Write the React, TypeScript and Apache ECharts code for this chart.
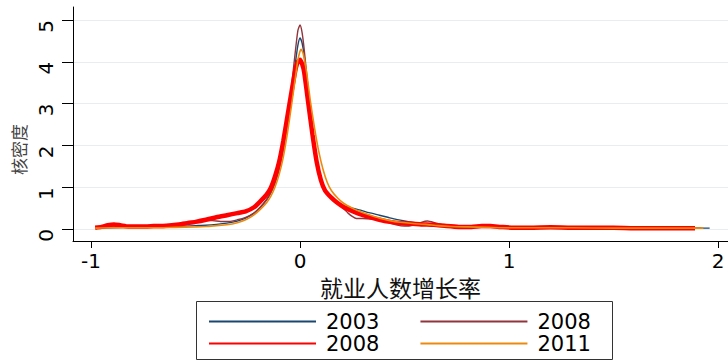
import { useEffect, useRef } from "react";
import * as echarts from "echarts";

// ---- axis ticks ----
const xTicks = [-1, 0, 1, 2];
const yTicks = [0, 1, 2, 3, 4, 5];

// ---- series (kernel density estimates): [growth rate, density] ----
const kd2003: number[][] = [
  [-0.98, 0.02], [-0.9, 0.03], [-0.8, 0.04], [-0.7, 0.05], [-0.6, 0.06], [-0.5, 0.08], [-0.45, 0.09],
  [-0.4, 0.11], [-0.35, 0.14], [-0.3, 0.19], [-0.26, 0.26], [-0.22, 0.38], [-0.19, 0.52], [-0.16, 0.7],
  [-0.14, 0.86], [-0.12, 1.1], [-0.1, 1.42], [-0.08, 1.9], [-0.06, 2.55], [-0.04, 3.25], [-0.02, 4.05],
  [-0.01, 4.4], [0, 4.57], [0.01, 4.45], [0.02, 4.15], [0.04, 3.25], [0.06, 2.35], [0.08, 1.62],
  [0.1, 1.17], [0.12, 0.93], [0.15, 0.74], [0.18, 0.63], [0.21, 0.56], [0.25, 0.5], [0.29, 0.45],
  [0.33, 0.39], [0.38, 0.33], [0.42, 0.28], [0.46, 0.23], [0.5, 0.19], [0.55, 0.15], [0.6, 0.12],
  [0.66, 0.08], [0.72, 0.06], [0.8, 0.05], [0.9, 0.04], [1.0, 0.04], [1.1, 0.03], [1.25, 0.03],
  [1.4, 0.03], [1.55, 0.03], [1.7, 0.02], [1.85, 0.02], [1.96, 0.02],
];

const kd2008a: number[][] = [
  [-0.98, 0.03], [-0.9, 0.05], [-0.8, 0.05], [-0.7, 0.06], [-0.6, 0.08], [-0.55, 0.11], [-0.5, 0.16],
  [-0.46, 0.2], [-0.42, 0.2], [-0.38, 0.18], [-0.34, 0.18], [-0.3, 0.22], [-0.26, 0.28], [-0.22, 0.38],
  [-0.19, 0.52], [-0.16, 0.7], [-0.14, 0.87], [-0.12, 1.1], [-0.1, 1.45], [-0.08, 1.95], [-0.06, 2.65],
  [-0.04, 3.45], [-0.02, 4.35], [-0.01, 4.75], [0, 4.88], [0.01, 4.7], [0.02, 4.3], [0.04, 3.3],
  [0.06, 2.35], [0.08, 1.62], [0.1, 1.18], [0.12, 0.94], [0.15, 0.74], [0.18, 0.6], [0.21, 0.48],
  [0.23, 0.38], [0.25, 0.3], [0.27, 0.25], [0.3, 0.25], [0.34, 0.24], [0.38, 0.21], [0.42, 0.16],
  [0.46, 0.1], [0.5, 0.07], [0.54, 0.09], [0.58, 0.16], [0.61, 0.19], [0.65, 0.14], [0.7, 0.08],
  [0.78, 0.05], [0.88, 0.05], [1.0, 0.04], [1.15, 0.03], [1.3, 0.03], [1.5, 0.03], [1.7, 0.02], [1.92, 0.02],
];

const kd2008b: number[][] = [
  [-0.98, 0.03], [-0.95, 0.05], [-0.92, 0.09], [-0.89, 0.11], [-0.86, 0.09], [-0.82, 0.06], [-0.76, 0.06],
  [-0.7, 0.07], [-0.64, 0.08], [-0.58, 0.11], [-0.54, 0.14], [-0.5, 0.17], [-0.45, 0.22], [-0.4, 0.28],
  [-0.35, 0.33], [-0.3, 0.38], [-0.26, 0.42], [-0.22, 0.52], [-0.19, 0.66], [-0.16, 0.82], [-0.14, 0.98],
  [-0.12, 1.25], [-0.1, 1.6], [-0.08, 2.1], [-0.06, 2.7], [-0.04, 3.3], [-0.02, 3.85], [-0.01, 4.0],
  [0, 4.05], [0.01, 3.95], [0.02, 3.75], [0.04, 3.0], [0.06, 2.25], [0.08, 1.6], [0.1, 1.17],
  [0.12, 0.92], [0.15, 0.75], [0.18, 0.62], [0.21, 0.52], [0.24, 0.45], [0.28, 0.37], [0.33, 0.29],
  [0.38, 0.22], [0.43, 0.17], [0.48, 0.14], [0.53, 0.13], [0.58, 0.11], [0.64, 0.1], [0.7, 0.07],
  [0.76, 0.05], [0.82, 0.05], [0.87, 0.07], [0.91, 0.07], [0.96, 0.05], [1.02, 0.03], [1.1, 0.03],
  [1.2, 0.04], [1.3, 0.03], [1.4, 0.03], [1.5, 0.03], [1.6, 0.02], [1.7, 0.02], [1.8, 0.02], [1.89, 0.02],
];

const kd2011: number[][] = [
  [-0.98, 0.02], [-0.9, 0.03], [-0.8, 0.03], [-0.7, 0.03], [-0.6, 0.04], [-0.5, 0.05], [-0.45, 0.06],
  [-0.4, 0.08], [-0.35, 0.1], [-0.3, 0.15], [-0.26, 0.22], [-0.22, 0.34], [-0.19, 0.47], [-0.16, 0.63],
  [-0.14, 0.78], [-0.12, 1.0], [-0.1, 1.3], [-0.08, 1.72], [-0.06, 2.3], [-0.04, 2.98], [-0.02, 3.7],
  [-0.01, 4.05], [0, 4.25], [0.005, 4.3], [0.015, 4.2], [0.03, 3.8], [0.05, 3.05], [0.07, 2.4],
  [0.09, 1.85], [0.11, 1.43], [0.13, 1.12], [0.15, 0.92], [0.18, 0.74], [0.21, 0.61], [0.25, 0.5],
  [0.29, 0.41], [0.33, 0.34], [0.38, 0.26], [0.43, 0.2], [0.48, 0.16], [0.54, 0.13], [0.6, 0.11],
  [0.66, 0.08], [0.72, 0.06], [0.8, 0.05], [0.9, 0.04], [1.0, 0.03], [1.15, 0.03], [1.3, 0.03],
  [1.5, 0.02], [1.7, 0.02], [1.93, 0.02],
];

const seriesKeys = ["2003", "2008a", "2008b", "2011"];
const legendLabels: Record<string, string> = { "2003": "2003", "2008a": "2008", "2008b": "2008", "2011": "2011" };
const xTitle = "就业人数增长率";
const yTitle = "核密度";

const numFont = "'DejaVu Sans', 'Liberation Sans', Arial, sans-serif";
const cjkFont = "'Noto Sans CJK SC', 'Noto Sans', sans-serif";

export default function App() {
  const ref = useRef<HTMLDivElement>(null);
  useEffect(() => {
    if (!ref.current) return;
    const chart = echarts.init(ref.current, undefined, { renderer: "svg" });
    const legendCommon = {
      left: 208,
      orient: "horizontal" as const,
      itemWidth: 107,
      itemHeight: 14,
      itemGap: 40,
      padding: 0,
      selectedMode: false,
      formatter: (n: string) => legendLabels[n],
      itemStyle: { opacity: 0, borderWidth: 0 },
      textStyle: { fontSize: 21, fontFamily: numFont, color: "#000", padding: [0, 0, 0, 5] },
    };
    const mk = (name: string, data: number[][], color: string, width: number) => ({
      name,
      type: "line" as const,
      data,
      symbol: "none",
      showSymbol: false,
      smooth: 0.2,
      color,
      lineStyle: { color, width },
    });
    chart.setOption({
      animation: false,
      backgroundColor: "#fff",
      grid: { left: 73, top: 7, right: 0, bottom: 122, containLabel: false },
      xAxis: {
        type: "value",
        min: -1 - 18 / 209,
        max: -1 - 18 / 209 + 655 / 209,
        name: xTitle,
        nameLocation: "middle",
        nameGap: 31,
        nameTextStyle: { fontSize: 23, fontFamily: cjkFont, color: "#111" },
        axisLine: { show: true, onZero: false, lineStyle: { color: "#000", width: 1 } },
        axisTick: { show: true, length: 7, customValues: xTicks, lineStyle: { color: "#000" } },
        axisLabel: { customValues: xTicks, fontSize: 20, fontFamily: numFont, color: "#000", margin: 10 },
        splitLine: { show: false },
      },
      yAxis: {
        type: "value",
        min: -12 / 41.8,
        max: 5 + 13 / 41.8,
        name: yTitle,
        nameLocation: "middle",
        nameRotate: 89.99,
        nameGap: 55,
        nameTextStyle: { fontSize: 17, fontFamily: cjkFont, color: "#444" },
        axisLine: { show: true, onZero: false, lineStyle: { color: "#000", width: 1 } },
        axisTick: { show: true, length: 11, customValues: yTicks, lineStyle: { color: "#000" } },
        axisLabel: { customValues: yTicks, rotate: 89.99, fontSize: 20, fontFamily: numFont, color: "#000", margin: 27 },
        splitLine: { show: true, lineStyle: { color: "#e6eef0", width: 1 } },
      },
      legend: [
        { ...legendCommon, top: 311, data: [seriesKeys[0], seriesKeys[1]] },
        { ...legendCommon, top: 333, data: [seriesKeys[2], seriesKeys[3]] },
      ],
      graphic: [
        {
          type: "rect",
          shape: { x: 196.5, y: 301.5, width: 416, height: 58 },
          style: { fill: "none", stroke: "#333", lineWidth: 1 },
          silent: true,
        },
      ],
      series: [
        mk(seriesKeys[0], kd2003, "#1a476f", 1.4),
        mk(seriesKeys[1], kd2008a, "#90353b", 1.4),
        mk(seriesKeys[2], kd2008b, "#ff0000", 4.5),
        mk(seriesKeys[3], kd2011, "#ec8a0e", 1.6),
      ],
    });
    return () => chart.dispose();
  }, []);
  return (
    <div
      ref={ref}
      style={{ position: "fixed", left: 0, top: 0, width: 728, height: 363, background: "#fff" }}
    />
  );
}
